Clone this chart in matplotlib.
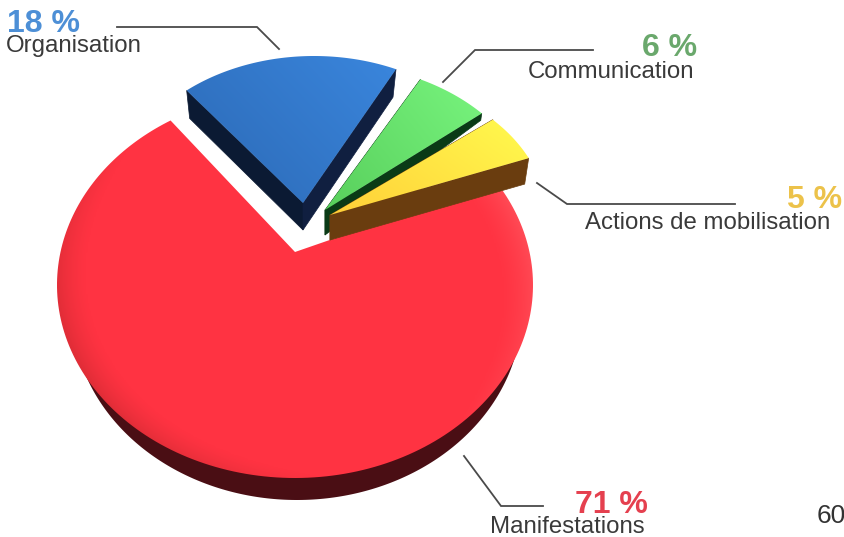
import numpy as np
import matplotlib
matplotlib.use('Agg')
import matplotlib.pyplot as plt
from matplotlib.colors import LinearSegmentedColormap
from matplotlib.patches import Polygon

plt.rcParams['font.family'] = ['Liberation Sans', 'DejaVu Sans']

# shares of each activity, clockwise from the top left
categories = ['Organisation', 'Communication', 'Actions de mobilisation', 'Manifestations']
shares = [18, 6, 5, 71]
percent_colors = ['#4d8fd6', '#6aa86c', '#ecc24a', '#e5404f']

START_ANGLE = 127.5
TEXT_COLOR = '#3a3a3a'
LINE_COLOR = '#4a4a4a'

# pie geometry per slice: tip of the slice, ellipse centre, ellipse radii, depth at tip and rim
slice_geom = {
    'Organisation': dict(apex=(303, 203), center=(314, 203), rx=198, ry=147, d_tip=27, d_rim=28, inset=3),
    'Communication': dict(apex=(325, 210), center=(325, 210), rx=208, ry=147, d_tip=25, d_rim=7, inset=1),
    'Actions de mobilisation': dict(apex=(330, 215), center=(330, 215), rx=216, ry=145, d_tip=25, d_rim=26, inset=4),
    'Manifestations': dict(apex=(295, 252), center=(295, 285), rx=238, ry=193, d_tip=0, d_rim=0, inset=0),
}
top_ramps = {
    'Organisation': ['#2c69b5', '#3a86dd'],
    'Communication': ['#58cf5c', '#78f47e'],
    'Actions de mobilisation': ['#ffcf38', '#fffa4e'],
    'Manifestations': ['#e02d37', '#ff3342', '#ff3443', '#ff4a55'],
}
side_colors = {
    'Organisation': ('#0b1a33', '#101f40'),
    'Communication': ('#0a3a16', '#0a3a16'),
    'Actions de mobilisation': ('#6a3d0f', '#6a3d0f'),
}

# leader lines and label anchors
leaders = [
    ([117, 257, 279], [27, 27, 49]),
    ([443, 475, 593], [82, 50, 50]),
    ([537, 567, 735], [183, 204, 204]),
    ([464, 501, 543], [456, 506, 506]),
]
name_pos = [(6, 52), (528, 78), (585, 229), (490, 533)]
percent_pos = [(7, 32), (642, 56), (787, 208), (575, 513)]


def slice_outline(apex, center, rx, ry, t1, t2, n=200):
    # walk the rim of the ellipse along rays leaving the tip of the slice
    ang = np.radians(np.linspace(t1, t2, n))
    dx, dy = np.cos(ang), np.sin(ang)
    px, py = (apex[0] - center[0]) / rx, (center[1] - apex[1]) / ry
    b = px * dx + py * dy
    t = -b + np.sqrt(b * b - (px * px + py * py - 1))
    return center[0] + rx * (px + t * dx), center[1] - ry * (py + t * dy)


def fill_shaded(ax, xs, ys, field_fn, ramp, z):
    poly = Polygon(np.column_stack([xs, ys]), closed=True, fc='none', ec='none', zorder=z)
    ax.add_patch(poly)
    x0, x1, y0, y1 = xs.min(), xs.max(), ys.min(), ys.max()
    gx, gy = np.meshgrid(np.linspace(x0, x1, 300), np.linspace(y0, y1, 300))
    cmap = LinearSegmentedColormap.from_list('ramp', ramp)
    im = ax.imshow(field_fn(gx, gy), extent=(x0, x1, y1, y0), cmap=cmap, vmin=0, vmax=1,
                   aspect='auto', interpolation='bilinear', zorder=z)
    im.set_clip_path(poly)


fig = plt.figure(figsize=(8.44, 5.37), dpi=100)
ax = fig.add_axes([0, 0, 1, 1])
ax.axis('off')

# slice angles come from the shares
angles = {}
current = START_ANGLE
for name, share in zip(categories, shares):
    angles[name] = (current, current - share * 3.6)
    current -= share * 3.6

# big slice first, the small ones stack on top of it
g = slice_geom['Manifestations']
t1, t2 = angles['Manifestations']
# only the lower half of the base ever shows below the top face
under = Polygon(np.column_stack(slice_outline((297, 310), (297, 310), 225, 190, 180, 360)),
                closed=True, fc='#4a0e14', ec='none', zorder=1)
ax.add_patch(under)
xs, ys = slice_outline(g['apex'], g['center'], g['rx'], g['ry'], t1, t2)
xs = np.append(xs, g['apex'][0])
ys = np.append(ys, g['apex'][1])


def red_field(gx, gy):
    nx = (gx - g['center'][0]) / g['rx']
    ny = (g['center'][1] - gy) / g['ry']
    rho = np.hypot(nx, ny)
    return np.clip(0.5 + 0.5 * rho ** 8 * np.cos(np.arctan2(ny, nx) - np.radians(25)), 0, 1)


fill_shaded(ax, xs, ys, red_field, top_ramps['Manifestations'], 2)

z = 3
for name in categories[:3]:
    g = slice_geom[name]
    t1, t2 = angles[name]
    ax_, ay = g['apex']
    xs, ys = slice_outline(g['apex'], g['center'], g['rx'], g['ry'], t1, t2)

    # walls below the two cut edges
    left, right = side_colors[name]
    tip_low = (ax_, ay + g['d_tip'])
    ax.add_patch(Polygon([(xs[0], ys[0]), (xs[0] + g['inset'], ys[0] + g['d_rim']), tip_low, (ax_, ay)],
                         closed=True, fc=left, ec=left, lw=0.5, zorder=z))
    ax.add_patch(Polygon([(xs[-1], ys[-1]), (xs[-1] - g['inset'], ys[-1] + g['d_rim']), tip_low, (ax_, ay)],
                         closed=True, fc=right, ec=right, lw=0.5, zorder=z))

    # top face, lighter towards the rim on the right
    px = np.append(xs, ax_)
    py = np.append(ys, ay)
    x0, x1, y0, y1 = px.min(), px.max(), py.min(), py.max()

    def top_field(gx, gy):
        return np.clip(0.6 * (gx - x0) / (x1 - x0) + 0.4 * (y1 - gy) / (y1 - y0), 0, 1)

    fill_shaded(ax, px, py, top_field, top_ramps[name], z + 1)
    z += 2

for (lx, ly), name, share, color, (nx, ny), (vx, vy) in zip(
        leaders, categories, shares, percent_colors, name_pos, percent_pos):
    ax.plot(lx, ly, color=LINE_COLOR, lw=1.3, solid_joinstyle='miter', zorder=20)
    ax.text(vx, vy, f'{share} %', color=color, fontsize=23, fontweight='bold', va='baseline', zorder=21)
    ax.text(nx, ny, name, color=TEXT_COLOR, fontsize=17.3, va='baseline', zorder=22)

# page number, runs off the right edge
ax.text(817, 523, '60', color='#333333', fontsize=19, va='baseline')

ax.set_xlim(0, 844)
ax.set_ylim(537, 0)
fig.savefig('out.png', dpi=100, facecolor='white')
